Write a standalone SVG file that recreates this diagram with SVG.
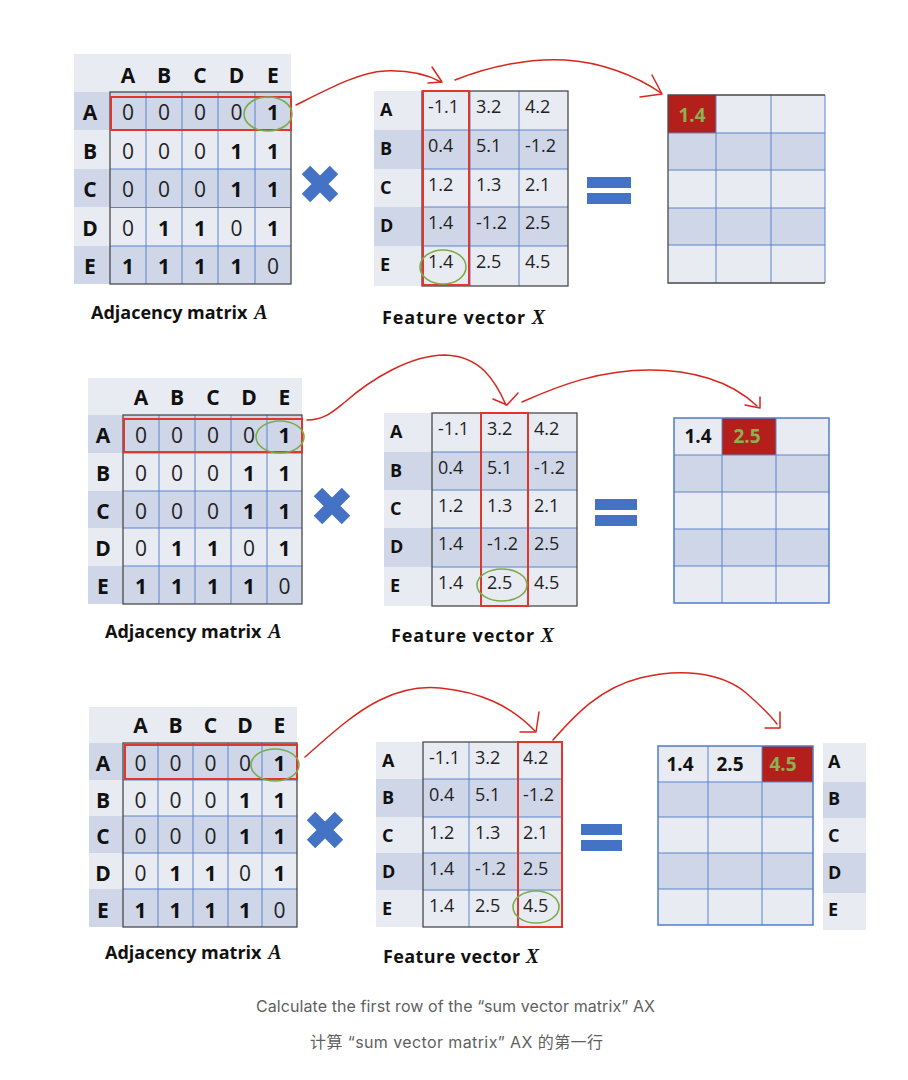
<svg xmlns="http://www.w3.org/2000/svg" width="908" height="1080" viewBox="0 0 908 1080">
<style>
.lt{fill:#e9ebf3}.dk{fill:#cfd6e8}
.gl{stroke:#5b84cc;stroke-width:1;fill:none}
.ob{fill:none;stroke:#4a4a4a;stroke-width:1.3}
.obb{fill:none;stroke:#4f7ccb;stroke-width:1.5}
.hd{font-family:"Open Sans","Liberation Sans",sans-serif;font-weight:bold;font-size:21px;fill:#111;text-anchor:middle}
.n0{font-family:"Open Sans","Liberation Sans",sans-serif;font-size:21px;fill:#222;text-anchor:middle}
.n1{font-family:"Open Sans","Liberation Sans",sans-serif;font-weight:bold;font-size:21px;fill:#111;text-anchor:middle}
.fv{font-family:"Open Sans","Liberation Sans",sans-serif;font-size:18px;fill:#222}
.fl{font-family:"Open Sans","Liberation Sans",sans-serif;font-weight:bold;font-size:18px;fill:#111}
.rv{font-family:"Open Sans","Liberation Sans",sans-serif;font-weight:bold;font-size:19px;fill:#111;text-anchor:middle}
.rg{font-family:"Open Sans","Liberation Sans",sans-serif;font-weight:bold;font-size:19px;fill:#8cb151;text-anchor:middle}
.lab{font-family:"Open Sans","Liberation Sans",sans-serif;font-weight:bold;font-size:18px;fill:#111}
.mi{font-family:"Liberation Serif",serif;font-style:italic;font-weight:bold;font-size:20px}
.red{fill:none;stroke:#e0362c;stroke-width:2}
.grn{fill:none;stroke:#7aad4a;stroke-width:1.6}
.arr{fill:none;stroke:#d8261c;stroke-width:1.5;stroke-linecap:round;stroke-linejoin:round}
.cross{stroke:#4472c4;stroke-width:12}
.eq{fill:#4472c4}
.rc{fill:#b3201b}
.cap{font-family:"Inter","Liberation Sans",sans-serif;font-size:16px;fill:#5f5f5f;text-anchor:middle}
.capz{font-family:"Inter","Noto Sans CJK SC",sans-serif;font-size:16px;fill:#5f5f5f;text-anchor:middle}
</style>
<rect width="908" height="1080" fill="#ffffff"/>

<!-- ================= PANEL 1 ================= -->
<g id="p1-adjacency">
<rect class="lt" x="74" y="54" width="217" height="38"/>
<rect class="dk" x="74" y="92" width="217" height="38.5"/>
<rect class="lt" x="74" y="130.5" width="217" height="38.5"/>
<rect class="dk" x="74" y="169" width="217" height="38.5"/>
<rect class="lt" x="74" y="207.5" width="217" height="38.5"/>
<rect class="dk" x="74" y="246" width="217" height="38"/>
<path class="gl" d="M146,92V284M182,92V284M218,92V284M255,92V284M110,130.5H291M110,169H291M110,207.5H291M110,246H291"/>
<rect class="ob" x="110" y="92" width="181" height="192"/>
<text class="hd" x="128" y="83">A</text><text class="hd" x="164" y="83">B</text><text class="hd" x="200" y="83">C</text><text class="hd" x="236.5" y="83">D</text><text class="hd" x="273" y="83">E</text>
<text class="hd" x="90" y="120">A</text><text class="hd" x="90" y="159">B</text><text class="hd" x="90" y="197">C</text><text class="hd" x="90" y="236">D</text><text class="hd" x="90" y="274">E</text>
<text class="n0" x="128" y="120">0</text><text class="n0" x="164" y="120">0</text><text class="n0" x="200" y="120">0</text><text class="n0" x="236.5" y="120">0</text><text class="n1" x="273" y="120">1</text>
<text class="n0" x="128" y="159">0</text><text class="n0" x="164" y="159">0</text><text class="n0" x="200" y="159">0</text><text class="n1" x="236.5" y="159">1</text><text class="n1" x="273" y="159">1</text>
<text class="n0" x="128" y="197">0</text><text class="n0" x="164" y="197">0</text><text class="n0" x="200" y="197">0</text><text class="n1" x="236.5" y="197">1</text><text class="n1" x="273" y="197">1</text>
<text class="n0" x="128" y="236">0</text><text class="n1" x="164" y="236">1</text><text class="n1" x="200" y="236">1</text><text class="n0" x="236.5" y="236">0</text><text class="n1" x="273" y="236">1</text>
<text class="n1" x="128" y="274">1</text><text class="n1" x="164" y="274">1</text><text class="n1" x="200" y="274">1</text><text class="n1" x="236.5" y="274">1</text><text class="n0" x="273" y="274">0</text>
<rect class="red" x="111" y="97" width="180" height="33"/>
<ellipse class="grn" cx="268" cy="114" rx="24" ry="17"/>
<text class="lab" x="91" y="319">Adjacency matrix <tspan class="mi" dx="2">A</tspan></text>
</g>

<g id="p1-times"><path class="cross" d="M306,170L334,198M334,170L306,198"/></g>

<g id="p1-feature">
<rect class="lt" x="374" y="91" width="194" height="39"/>
<rect class="dk" x="374" y="130" width="194" height="39"/>
<rect class="lt" x="374" y="169" width="194" height="38"/>
<rect class="dk" x="374" y="207" width="194" height="39"/>
<rect class="lt" x="374" y="246" width="194" height="40"/>
<path class="gl" d="M470,91V286M519,91V286M422,130H568M422,169H568M422,207H568M422,246H568"/>
<rect class="ob" x="422" y="91" width="146" height="195"/>
<text class="fl" x="380" y="116">A</text><text class="fl" x="380" y="155">B</text><text class="fl" x="380" y="194">C</text><text class="fl" x="380" y="232">D</text><text class="fl" x="380" y="271">E</text>
<text class="fv" x="428" y="113">-1.1</text><text class="fv" x="476" y="113">3.2</text><text class="fv" x="525" y="113">4.2</text>
<text class="fv" x="428" y="152">0.4</text><text class="fv" x="476" y="152">5.1</text><text class="fv" x="525" y="152">-1.2</text>
<text class="fv" x="428" y="191">1.2</text><text class="fv" x="476" y="191">1.3</text><text class="fv" x="525" y="191">2.1</text>
<text class="fv" x="428" y="229">1.4</text><text class="fv" x="476" y="229">-1.2</text><text class="fv" x="525" y="229">2.5</text>
<text class="fv" x="428" y="268">1.4</text><text class="fv" x="476" y="268">2.5</text><text class="fv" x="525" y="268">4.5</text>
<rect class="red" x="423" y="91" width="46" height="194"/>
<ellipse class="grn" cx="443" cy="267" rx="23" ry="17"/>
<text class="lab" x="382" y="324" textLength="163">Feature vector <tspan class="mi">X</tspan></text>
</g>

<g id="p1-equals"><rect class="eq" x="587" y="177" width="44" height="11"/><rect class="eq" x="587" y="193" width="44" height="11"/></g>

<g id="p1-result">
<rect class="lt" x="668" y="95" width="157" height="38"/>
<rect class="dk" x="668" y="133" width="157" height="37"/>
<rect class="lt" x="668" y="170" width="157" height="38"/>
<rect class="dk" x="668" y="208" width="157" height="37"/>
<rect class="lt" x="668" y="245" width="157" height="38"/>
<rect class="rc" x="668" y="95" width="48" height="38"/>
<path class="gl" d="M716,95V283M771,95V283M668,133H825M668,170H825M668,208H825M668,245H825M825,95V283"/>
<path class="ob" d="M825,95H668V283H825"/>
<text class="rg" x="692" y="122">1.4</text>
</g>

<!-- ================= PANEL 2 ================= -->
<g id="p2-adjacency">
<rect class="lt" x="88" y="378" width="214" height="37"/>
<rect class="dk" x="88" y="415" width="214" height="38"/>
<rect class="lt" x="88" y="453" width="214" height="38"/>
<rect class="dk" x="88" y="491" width="214" height="37"/>
<rect class="lt" x="88" y="528" width="214" height="38"/>
<rect class="dk" x="88" y="566" width="214" height="38"/>
<path class="gl" d="M159,415V604M195,415V604M231,415V604M267,415V604M123,453H302M123,491H302M123,528H302M123,566H302"/>
<rect class="ob" x="123" y="415" width="179" height="189"/>
<text class="hd" x="141" y="405">A</text><text class="hd" x="177" y="405">B</text><text class="hd" x="213" y="405">C</text><text class="hd" x="249" y="405">D</text><text class="hd" x="284.5" y="405">E</text>
<text class="hd" x="103" y="443">A</text><text class="hd" x="103" y="481">B</text><text class="hd" x="103" y="518.5">C</text><text class="hd" x="103" y="556">D</text><text class="hd" x="103" y="594">E</text>
<text class="n0" x="141" y="443">0</text><text class="n0" x="177" y="443">0</text><text class="n0" x="213" y="443">0</text><text class="n0" x="249" y="443">0</text><text class="n1" x="284.5" y="443">1</text>
<text class="n0" x="141" y="481">0</text><text class="n0" x="177" y="481">0</text><text class="n0" x="213" y="481">0</text><text class="n1" x="249" y="481">1</text><text class="n1" x="284.5" y="481">1</text>
<text class="n0" x="141" y="518.5">0</text><text class="n0" x="177" y="518.5">0</text><text class="n0" x="213" y="518.5">0</text><text class="n1" x="249" y="518.5">1</text><text class="n1" x="284.5" y="518.5">1</text>
<text class="n0" x="141" y="556">0</text><text class="n1" x="177" y="556">1</text><text class="n1" x="213" y="556">1</text><text class="n0" x="249" y="556">0</text><text class="n1" x="284.5" y="556">1</text>
<text class="n1" x="141" y="594">1</text><text class="n1" x="177" y="594">1</text><text class="n1" x="213" y="594">1</text><text class="n1" x="249" y="594">1</text><text class="n0" x="284.5" y="594">0</text>
<rect class="red" x="124" y="419" width="178" height="33"/>
<ellipse class="grn" cx="280" cy="437" rx="24" ry="16"/>
<text class="lab" x="105" y="638">Adjacency matrix <tspan class="mi" dx="2">A</tspan></text>
</g>

<g id="p2-times"><path class="cross" d="M318,492L346,520M346,492L318,520"/></g>

<g id="p2-feature">
<rect class="lt" x="384" y="413" width="193" height="39"/>
<rect class="dk" x="384" y="452" width="193" height="38"/>
<rect class="lt" x="384" y="490" width="193" height="38"/>
<rect class="dk" x="384" y="528" width="193" height="39"/>
<rect class="lt" x="384" y="567" width="193" height="39"/>
<path class="gl" d="M481,413V606M528,413V606M432,452H577M432,490H577M432,528H577M432,567H577"/>
<rect class="ob" x="432" y="413" width="145" height="193"/>
<text class="fl" x="390" y="438">A</text><text class="fl" x="390" y="477">B</text><text class="fl" x="390" y="515">C</text><text class="fl" x="390" y="553">D</text><text class="fl" x="390" y="592">E</text>
<text class="fv" x="438" y="435">-1.1</text><text class="fv" x="487" y="435">3.2</text><text class="fv" x="534" y="435">4.2</text>
<text class="fv" x="438" y="474">0.4</text><text class="fv" x="487" y="474">5.1</text><text class="fv" x="534" y="474">-1.2</text>
<text class="fv" x="438" y="512">1.2</text><text class="fv" x="487" y="512">1.3</text><text class="fv" x="534" y="512">2.1</text>
<text class="fv" x="438" y="550">1.4</text><text class="fv" x="487" y="550">-1.2</text><text class="fv" x="534" y="550">2.5</text>
<text class="fv" x="438" y="589">1.4</text><text class="fv" x="487" y="589">2.5</text><text class="fv" x="534" y="589">4.5</text>
<rect class="red" x="481" y="413" width="47" height="193"/>
<ellipse class="grn" cx="502" cy="585" rx="25" ry="16"/>
<text class="lab" x="391" y="642" textLength="163">Feature vector <tspan class="mi">X</tspan></text>
</g>

<g id="p2-equals"><rect class="eq" x="595" y="499" width="42" height="11"/><rect class="eq" x="595" y="515" width="42" height="11"/></g>

<g id="p2-result">
<rect class="lt" x="674" y="418" width="155" height="37"/>
<rect class="dk" x="674" y="455" width="155" height="37"/>
<rect class="lt" x="674" y="492" width="155" height="37"/>
<rect class="dk" x="674" y="529" width="155" height="37"/>
<rect class="lt" x="674" y="566" width="155" height="37"/>
<rect class="rc" x="722" y="418" width="54" height="37"/>
<path class="gl" d="M722,418V603M776,418V603M674,455H829M674,492H829M674,529H829M674,566H829"/>
<rect class="obb" x="674" y="418" width="155" height="185"/>
<text class="rv" x="698" y="443">1.4</text>
<text class="rg" x="747" y="443">2.5</text>
</g>

<!-- ================= PANEL 3 ================= -->
<g id="p3-adjacency">
<rect class="lt" x="89" y="707" width="208" height="36"/>
<rect class="dk" x="89" y="743" width="208" height="37"/>
<rect class="lt" x="89" y="780" width="208" height="36"/>
<rect class="dk" x="89" y="816" width="208" height="37"/>
<rect class="lt" x="89" y="853" width="208" height="36"/>
<rect class="dk" x="89" y="889" width="208" height="38"/>
<path class="gl" d="M158,743V927M193,743V927M228,743V927M262,743V927M123,780H297M123,816H297M123,853H297M123,889H297"/>
<rect class="ob" x="123" y="743" width="174" height="184"/>
<text class="hd" x="140.5" y="733">A</text><text class="hd" x="175.5" y="733">B</text><text class="hd" x="210.5" y="733">C</text><text class="hd" x="245" y="733">D</text><text class="hd" x="279.5" y="733">E</text>
<text class="hd" x="103" y="771">A</text><text class="hd" x="103" y="807.5">B</text><text class="hd" x="103" y="844">C</text><text class="hd" x="103" y="880.5">D</text><text class="hd" x="103" y="917.5">E</text>
<text class="n0" x="140.5" y="771">0</text><text class="n0" x="175.5" y="771">0</text><text class="n0" x="210.5" y="771">0</text><text class="n0" x="245" y="771">0</text><text class="n1" x="279.5" y="771">1</text>
<text class="n0" x="140.5" y="807.5">0</text><text class="n0" x="175.5" y="807.5">0</text><text class="n0" x="210.5" y="807.5">0</text><text class="n1" x="245" y="807.5">1</text><text class="n1" x="279.5" y="807.5">1</text>
<text class="n0" x="140.5" y="844">0</text><text class="n0" x="175.5" y="844">0</text><text class="n0" x="210.5" y="844">0</text><text class="n1" x="245" y="844">1</text><text class="n1" x="279.5" y="844">1</text>
<text class="n0" x="140.5" y="880.5">0</text><text class="n1" x="175.5" y="880.5">1</text><text class="n1" x="210.5" y="880.5">1</text><text class="n0" x="245" y="880.5">0</text><text class="n1" x="279.5" y="880.5">1</text>
<text class="n1" x="140.5" y="917.5">1</text><text class="n1" x="175.5" y="917.5">1</text><text class="n1" x="210.5" y="917.5">1</text><text class="n1" x="245" y="917.5">1</text><text class="n0" x="279.5" y="917.5">0</text>
<rect class="red" x="125" y="745" width="172" height="34"/>
<ellipse class="grn" cx="275" cy="765" rx="24" ry="16"/>
<text class="lab" x="105" y="959">Adjacency matrix <tspan class="mi" dx="2">A</tspan></text>
</g>

<g id="p3-times"><path class="cross" d="M311,816L339,844M339,816L311,844"/></g>

<g id="p3-feature">
<rect class="lt" x="376" y="742" width="186" height="37"/>
<rect class="dk" x="376" y="779" width="186" height="38"/>
<rect class="lt" x="376" y="817" width="186" height="36"/>
<rect class="dk" x="376" y="853" width="186" height="37"/>
<rect class="lt" x="376" y="890" width="186" height="37"/>
<path class="gl" d="M469,742V927M518,742V927M423,779H562M423,817H562M423,853H562M423,890H562"/>
<rect class="ob" x="423" y="742" width="139" height="185"/>
<text class="fl" x="382" y="767">A</text><text class="fl" x="382" y="804">B</text><text class="fl" x="382" y="842">C</text><text class="fl" x="382" y="878">D</text><text class="fl" x="382" y="915">E</text>
<text class="fv" x="429" y="764">-1.1</text><text class="fv" x="475" y="764">3.2</text><text class="fv" x="523" y="764">4.2</text>
<text class="fv" x="429" y="801">0.4</text><text class="fv" x="475" y="801">5.1</text><text class="fv" x="523" y="801">-1.2</text>
<text class="fv" x="429" y="839">1.2</text><text class="fv" x="475" y="839">1.3</text><text class="fv" x="523" y="839">2.1</text>
<text class="fv" x="429" y="875">1.4</text><text class="fv" x="475" y="875">-1.2</text><text class="fv" x="523" y="875">2.5</text>
<text class="fv" x="429" y="912">1.4</text><text class="fv" x="475" y="912">2.5</text><text class="fv" x="523" y="912">4.5</text>
<rect class="red" x="518" y="742" width="44" height="185"/>
<ellipse class="grn" cx="536" cy="907" rx="23" ry="16"/>
<text class="lab" x="383" y="963" textLength="156">Feature vector <tspan class="mi">X</tspan></text>
</g>

<g id="p3-equals"><rect class="eq" x="581" y="824" width="41" height="11"/><rect class="eq" x="581" y="840" width="41" height="11"/></g>

<g id="p3-result">
<rect class="lt" x="658" y="746" width="155" height="36"/>
<rect class="dk" x="658" y="782" width="155" height="35"/>
<rect class="lt" x="658" y="817" width="155" height="36"/>
<rect class="dk" x="658" y="853" width="155" height="36"/>
<rect class="lt" x="658" y="889" width="155" height="36"/>
<rect class="rc" x="762" y="746" width="51" height="36"/>
<path class="gl" d="M708,746V925M762,746V925M658,782H813M658,817H813M658,853H813M658,889H813"/>
<rect class="obb" x="658" y="746" width="155" height="179"/>
<text class="rv" x="680" y="771">1.4</text>
<text class="rv" x="730" y="771">2.5</text>
<text class="rg" x="783" y="771">4.5</text>
</g>

<g id="p3-rowlabels">
<rect class="lt" x="823" y="743" width="43" height="39"/>
<rect class="dk" x="823" y="782" width="43" height="36"/>
<rect class="lt" x="823" y="818" width="43" height="35"/>
<rect class="dk" x="823" y="853" width="43" height="40"/>
<rect class="lt" x="823" y="893" width="43" height="37"/>
<text class="fl" x="828" y="768">A</text><text class="fl" x="828" y="805">B</text><text class="fl" x="828" y="842">C</text><text class="fl" x="828" y="879">D</text><text class="fl" x="828" y="916">E</text>
</g>

<!-- ================= CONNECTORS ================= -->
<g id="connectors">
<path class="arr" d="M296,105C330,88 360,72 385,71C410,70 428,75 441,82"/>
<path class="arr" d="M428,83L442,82L432,67"/>
<path class="arr" d="M455,80C490,66 530,58 565,60C600,62 635,75 661,93"/>
<path class="arr" d="M640,97L662,94L652,75"/>

<path class="arr" d="M307,420C325,420 335,410 345,402C370,380 410,355 445,355C480,356 495,380 506,405"/>
<path class="arr" d="M493,399L507,405L518,393"/>
<path class="arr" d="M522,402C560,385 600,370 650,370C690,370 730,380 757,406"/>
<path class="arr" d="M745,405L760,408L760,397"/>

<path class="arr" d="M305,757C330,735 355,712 380,700C400,690 420,686 440,688C480,692 510,705 535,731"/>
<path class="arr" d="M520,732L536,732L539,712"/>
<path class="arr" d="M553,740C575,715 600,688 640,678C680,668 720,672 745,692C760,705 770,715 777,724"/>
<path class="arr" d="M765,728L780,728L780,712"/>
</g>

<g id="caption">
<text class="cap" x="455.5" y="1012" textLength="399">Calculate the first row of the “sum vector matrix” AX</text>
<text class="capz" x="456.5" y="1048" textLength="293">计算 “sum vector matrix” AX 的第一行</text>
</g>
</svg>
